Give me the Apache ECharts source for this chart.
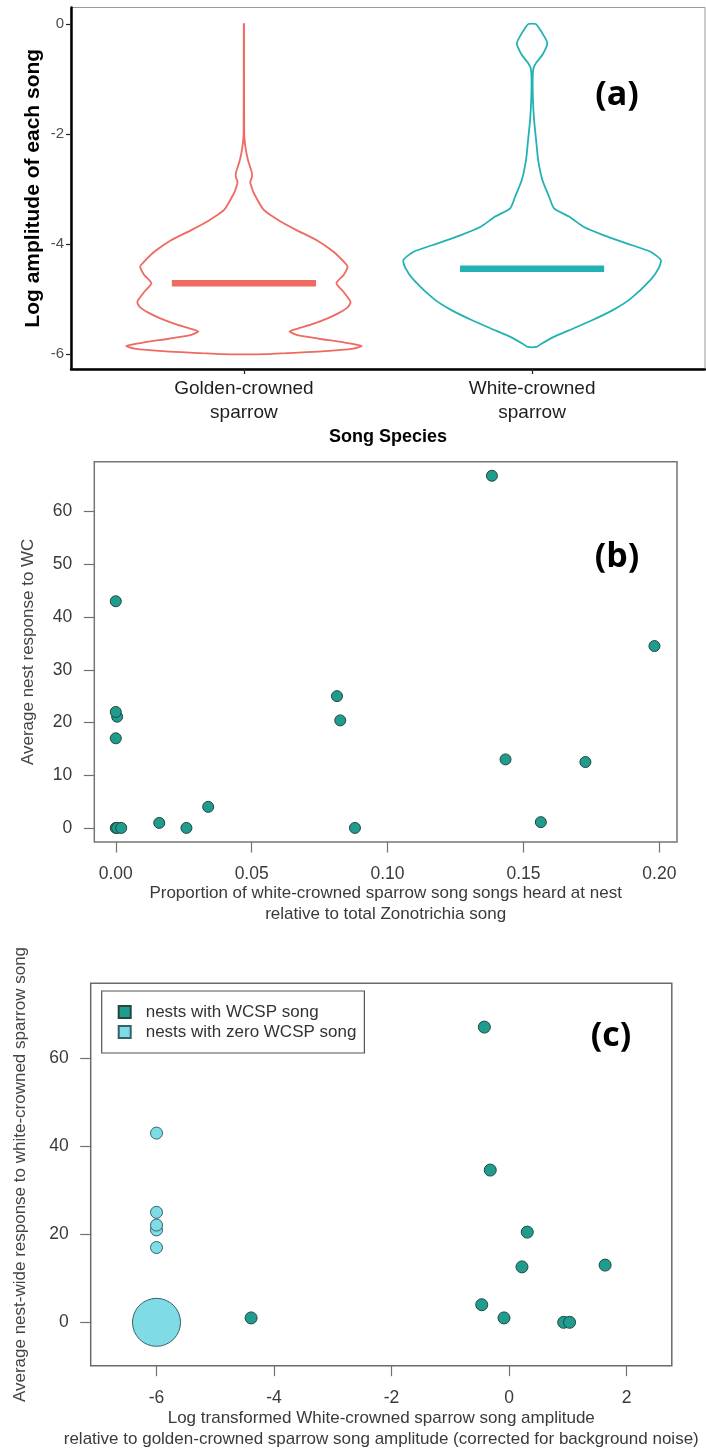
<!DOCTYPE html>
<html><head><meta charset="utf-8">
<script src="https://cdn.jsdelivr.net/npm/echarts@6/dist/echarts.min.js"></script>
<style>html,body{margin:0;padding:0;background:#fff}#c{width:706px;height:1449px}</style>
</head><body><div id="c"></div><script>
// ---------- Panel (a): violin profiles (log amplitude vs half-width in category units)
const speciesNames = ['Golden-crowned\nsparrow', 'White-crowned\nsparrow'];
const speciesMedians = [-4.71, -4.45];
const goldenY = [0, -1.99, -2.23, -2.47, -2.69, -2.78, -2.87, -2.97, -3.08, -3.38, -3.59, -3.75, -3.93, -4.14, -4.35, -4.41, -4.56, -4.71, -4.87, -5.05, -5.15, -5.25, -5.35, -5.45, -5.53, -5.59, -5.66, -5.72, -5.79, -5.85, -5.90, -5.95, -5.98, -6.0];
const goldenW = [0.0005, 0.001, 0.005, 0.014, 0.027, 0.028, 0.022, 0.027, 0.035, 0.069, 0.127, 0.184, 0.253, 0.311, 0.352, 0.360, 0.346, 0.321, 0.346, 0.370, 0.36, 0.33, 0.29, 0.24, 0.19, 0.158, 0.19, 0.26, 0.35, 0.408, 0.38, 0.27, 0.15, 0.08];
const whiteY = [0.0, -0.08, -0.17, -0.35, -0.56, -0.70, -0.80, -1.0, -1.38, -1.75, -2.11, -2.47, -2.84, -3.14, -3.35, -3.50, -3.69, -3.84, -3.99, -4.14, -4.29, -4.44, -4.65, -5.0, -5.2, -5.38, -5.53, -5.7, -5.82, -5.87];
const whiteW = [0.013, 0.025, 0.036, 0.053, 0.036, 0.015, 0.005, 0.002, 0.003, 0.007, 0.014, 0.021, 0.036, 0.059, 0.076, 0.128, 0.18, 0.249, 0.33, 0.411, 0.447, 0.439, 0.411, 0.34, 0.28, 0.21, 0.145, 0.07, 0.03, 0.015];
const aTicks = [-6, -4, -2, 0];

// ---------- Panel (b)
const bX = [0, 0.0005, 0, 0, 0, 0.0005, 0.002, 0.016, 0.026, 0.034, 0.0814, 0.0826, 0.088, 0.1384, 0.1434, 0.1564, 0.1728, 0.1982];
const bY = [43.0, 21.1, 22.0, 17.0, 0, 0, 0, 0.95, 0, 4.0, 25.0, 20.4, 0, 66.8, 13.0, 1.1, 12.5, 34.5];
const bXTicks = [0, 0.05, 0.10, 0.15, 0.20];
const bYTicks = [0, 10, 20, 30, 40, 50, 60];

// ---------- Panel (c)
const cDarkX = [-0.42, -0.32, 0.31, 0.22, 1.635, -0.465, -0.086, -4.39, 0.93, 1.03];
const cDarkY = [67.1, 34.6, 20.5, 12.6, 13.0, 4.0, 1.0, 1.0, 0, 0];
const cLightX = [-6, -6, -6, -6, -6, -6];
const cLightY = [43.0, 25.0, 21.0, 22.1, 17.0, 0];
const cXTicks = [-6, -4, -2, 0, 2];
const cYTicks = [0, 20, 40, 60];

const RED = '#EE6A62', TEAL = '#22B2B3';
const DARK = '#1E9C8E', LIGHT = '#7FDCE6';
const FONT = '"Liberation Sans", Arial, sans-serif';
const violins = [
  {pos: 1, y: goldenY, w: goldenW, color: RED},
  {pos: 2, y: whiteY, w: whiteW, color: TEAL}
];

const chart = echarts.init(document.getElementById('c'), null, {renderer: 'canvas'});

function rAxisX(gi, min, max, ticks, fmt, name, gap) {
  return {
    type: 'value', gridIndex: gi, min, max,
    axisLine: {show: false, onZero: false}, splitLine: {show: false},
    axisTick: {show: true, customValues: ticks, length: 10.5, lineStyle: {color: '#707070', width: 1.2}},
    axisLabel: {customValues: ticks, formatter: fmt, margin: 23, color: '#3a3a3a', fontSize: 17.5, fontFamily: FONT},
    name, nameLocation: 'middle', nameGap: gap, nameMoveOverlap: false,
    nameTextStyle: {color: '#3a3a3a', fontSize: 17, fontFamily: FONT, lineHeight: 21}
  };
}
function rAxisY(gi, min, max, ticks, name, gap) {
  return {
    type: 'value', gridIndex: gi, min, max,
    axisLine: {show: false, onZero: false}, splitLine: {show: false},
    axisTick: {show: true, customValues: ticks, length: 10.5, lineStyle: {color: '#707070', width: 1.2}},
    axisLabel: {customValues: ticks, margin: 22, color: '#3a3a3a', fontSize: 17.5, fontFamily: FONT},
    name, nameLocation: 'middle', nameGap: gap, nameMoveOverlap: false,
    nameTextStyle: {color: '#444', fontSize: 17, fontFamily: FONT}
  };
}

const option = {
  animation: false,
  backgroundColor: '#fff',
  grid: [
    {left: 71, top: 7.5, width: 634, height: 361.5, show: true, borderColor: '#9a9a9a', borderWidth: 1, outerBoundsMode: 'none'},
    {left: 94.3, top: 461.7, width: 582.7, height: 380.3, show: true, borderColor: '#767676', borderWidth: 1.5, outerBoundsMode: 'none'},
    {left: 90.7, top: 983.3, width: 581.1, height: 382.4, show: true, borderColor: '#6a6a6a', borderWidth: 1.5, outerBoundsMode: 'none'}
  ],
  xAxis: [
    {
      type: 'value', gridIndex: 0, min: 0.4, max: 2.6,
      axisLine: {show: true, onZero: false, lineStyle: {color: '#000', width: 2.5}},
      splitLine: {show: false},
      axisTick: {show: true, customValues: [1, 2], length: 5, lineStyle: {color: '#222', width: 1.2}},
      axisLabel: {customValues: [1, 2], formatter: v => speciesNames[Math.round(v) - 1], margin: 8, color: '#1e1e1e', fontSize: 19, lineHeight: 24, fontFamily: FONT},
      name: 'Song Species', nameLocation: 'middle', nameGap: 59, nameMoveOverlap: false,
      nameTextStyle: {color: '#000', fontSize: 18, fontWeight: 'bold', fontFamily: FONT}
    },
    rAxisX(1, -0.0079, 0.2065, bXTicks, v => v.toFixed(2),
      'Proportion of white-crowned sparrow song songs heard at nest\nrelative to total Zonotrichia song', 41),
    rAxisX(2, -7.12, 2.77, cXTicks, v => String(v),
      'Log transformed White-crowned sparrow song amplitude\nrelative to golden-crowned sparrow song amplitude (corrected for background noise)', 42)
  ],
  yAxis: [
    {
      type: 'value', gridIndex: 0, min: -6.27, max: 0.30,
      axisLine: {show: true, onZero: false, lineStyle: {color: '#000', width: 2.5}},
      splitLine: {show: false},
      axisTick: {show: true, customValues: aTicks, length: 5, lineStyle: {color: '#222', width: 1.2}},
      axisLabel: {customValues: aTicks, margin: 7, color: '#4d4d4d', fontSize: 15, fontFamily: FONT},
      name: 'Log amplitude of each song', nameLocation: 'middle', nameGap: 27, nameMoveOverlap: false,
      nameTextStyle: {color: '#000', fontSize: 21, fontWeight: 'bold', fontFamily: FONT}
    },
    rAxisY(1, -2.67, 69.47, bYTicks, 'Average nest response to WC', 57),
    rAxisY(2, -9.86, 77.05, cYTicks, 'Average nest-wide response to white-crowned sparrow song', 62)
  ],
  legend: {
    left: 101.7, top: 991, orient: 'vertical',
    data: ['nests with WCSP song', 'nests with zero WCSP song'],
    backgroundColor: '#fff', borderColor: '#555', borderWidth: 1.2,
    padding: [11, 8, 11, 16],
    itemWidth: 12, itemHeight: 12, itemGap: 0, icon: 'rect',
    textStyle: {color: '#333', fontSize: 17, fontFamily: FONT, lineHeight: 20, padding: [0, 0, 0, 10]}
  },
  series: [
    {
      type: 'custom', xAxisIndex: 0, yAxisIndex: 0,
      data: speciesMedians.map((m, i) => [violins[i].pos, m]),
      encode: {x: 0, y: 1},
      renderItem: function (params, api) {
        const v = violins[params.dataIndex];
        const left = [], right = [];
        for (let k = 0; k < v.y.length; k++) {
          left.push(api.coord([v.pos - v.w[k], v.y[k]]));
          right.push(api.coord([v.pos + v.w[k], v.y[k]]));
        }
        const pts = left.concat(right.reverse());
        const a = api.coord([v.pos - 0.25, api.value(1)]);
        const b = api.coord([v.pos + 0.25, api.value(1)]);
        return {type: 'group', children: [
          {type: 'polygon', shape: {points: pts, smooth: 0.2}, style: {fill: 'none', stroke: v.color, lineWidth: 1.8}},
          {type: 'line', shape: {x1: a[0], y1: a[1], x2: b[0], y2: b[1]}, style: {stroke: v.color, lineWidth: 6.5}}
        ]};
      }
    },
    {
      type: 'scatter', xAxisIndex: 1, yAxisIndex: 1, symbolSize: 11,
      data: bX.map((x, i) => [x, bY[i]]),
      itemStyle: {color: DARK, borderColor: '#24463f', borderWidth: 1, opacity: 1}
    },
    {
      name: 'nests with WCSP song',
      type: 'scatter', xAxisIndex: 2, yAxisIndex: 2, symbolSize: 12,
      data: cDarkX.map((x, i) => [x, cDarkY[i]]),
      itemStyle: {color: DARK, borderColor: '#24463f', borderWidth: 1, opacity: 1}
    },
    {
      name: 'nests with zero WCSP song',
      type: 'scatter', xAxisIndex: 2, yAxisIndex: 2,
      symbolSize: (val) => (val[1] === 0 ? 48 : 12),
      data: cLightX.map((x, i) => [x, cLightY[i]]),
      itemStyle: {color: LIGHT, borderColor: '#35626a', borderWidth: 1, opacity: 1}
    }
  ],
  graphic: [
    {type: 'text', x: 617, y: 95, style: {text: '(a)', font: 'bold 34px "Open Sans"', fill: '#000', align: 'center', verticalAlign: 'middle'}},
    {type: 'text', x: 617, y: 557, style: {text: '(b)', font: 'bold 34px "Open Sans"', fill: '#000', align: 'center', verticalAlign: 'middle'}},
    {type: 'text', x: 611, y: 1036, style: {text: '(c)', font: 'bold 34px "Open Sans"', fill: '#000', align: 'center', verticalAlign: 'middle'}}
  ]
};
chart.setOption(option);
</script></body></html>
